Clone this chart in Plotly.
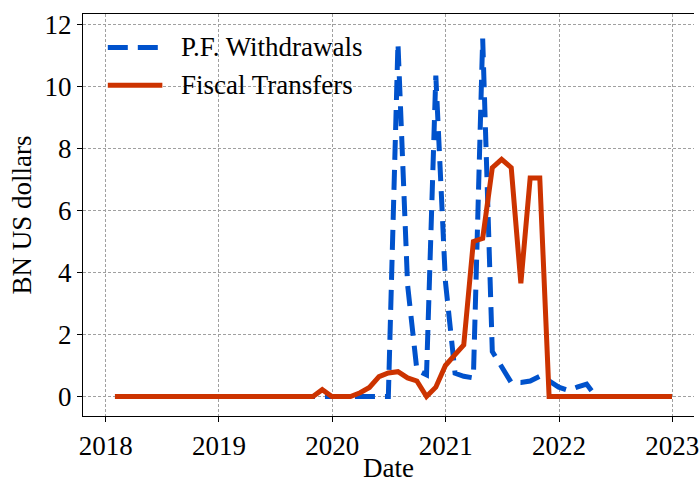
import pandas as pd
import plotly.graph_objects as go

# Monthly observations, month-end dates from Jan 2018 to Dec 2022
month_starts = pd.date_range(start="2018-01-01", periods=60, freq="MS")
dates = month_starts + pd.offsets.MonthEnd(0)

# Pension-fund withdrawals, BN US dollars
pf_withdrawals = [
    0, 0, 0, 0, 0, 0, 0, 0, 0, 0, 0, 0,                      # 2018
    0, 0, 0, 0, 0, 0, 0, 0, 0, 0, 0, 0,                      # 2019
    0, 0, 0, 0, 0, 0, 11.4, 3.6, 0.85, 0.7, 10.35, 3.7,      # 2020
    0.75, 0.65, 0.6, 11.55, 1.45, 0.95, 0.45, 0.45, 0.5, 0.65, 0.5, 0.3,  # 2021
    0.2, 0.3, 0.4, 0, 0, 0, 0, 0, 0, 0, 0, 0,                # 2022
]

# Fiscal transfers, BN US dollars
fiscal_transfers = [
    0, 0, 0, 0, 0, 0, 0, 0, 0, 0, 0, 0,                      # 2018
    0, 0, 0, 0, 0, 0, 0, 0, 0, 0, 0.22, 0,                   # 2019
    0, 0, 0.12, 0.29, 0.64, 0.76, 0.8, 0.6, 0.5, 0, 0.3, 1.0,  # 2020
    1.35, 1.66, 5.0, 5.1, 7.38, 7.65, 7.38, 3.65, 7.05, 7.05, 0, 0,  # 2021
    0, 0, 0, 0, 0, 0, 0, 0, 0, 0, 0, 0,                      # 2022
]

series_names = ["P.F. Withdrawals", "Fiscal Transfers"]
year_ticks = ["2018", "2019", "2020", "2021", "2022", "2023"]
y_ticks = [0, 2, 4, 6, 8, 10, 12]

BLUE = "#0052cc"
RED = "#cc3300"
FONT = "Liberation Serif"
DASH = "20px,10px"
TICK_SIZE = 27
LABEL_SIZE = 27

fig = go.Figure()
fig.add_trace(go.Scatter(
    x=dates, y=pf_withdrawals, mode="lines", name=series_names[0],
    line=dict(color=BLUE, width=5, dash=DASH),
))
fig.add_trace(go.Scatter(
    x=dates, y=fiscal_transfers, mode="lines", name=series_names[1],
    line=dict(color=RED, width=5),
))

W, H = 699, 483
L, R, T, B = 83, 0, 13.5, 66.5
plot_w, plot_h = W - L - R, H - T - B

def px_x(px):
    return (px - L) / plot_w

def px_y(py):
    return (H - B - py) / plot_h

# Legend drawn without a frame: sample line plus label for each series
legend_rows = [(47, BLUE, DASH), (85, RED, "solid")]
for (row_y, color, dash), label in zip(legend_rows, series_names):
    fig.add_shape(
        type="line", xref="paper", yref="paper",
        x0=px_x(108), x1=px_x(163), y0=px_y(row_y), y1=px_y(row_y),
        line=dict(color=color, width=5, dash=dash),
    )
    fig.add_annotation(
        xref="paper", yref="paper", x=px_x(180), y=px_y(row_y),
        text=label, showarrow=False, xanchor="left", yanchor="middle",
        font=dict(family=FONT, size=LABEL_SIZE, color="black"),
    )

axis_common = dict(
    showline=True, linecolor="black", linewidth=1.3,
    ticks="outside", ticklen=5, tickwidth=1.2, tickcolor="black",
    showgrid=True, gridcolor="#a0a0a0", gridwidth=0.8, griddash="3px,2px",
    tickfont=dict(family=FONT, size=TICK_SIZE, color="black"),
    ticklabeloverflow="allow",
    zeroline=False,
)

fig.update_layout(
    width=W, height=H,
    margin=dict(l=L, r=R, t=T, b=B, pad=0),
    plot_bgcolor="white", paper_bgcolor="white",
    showlegend=False,
    font=dict(family=FONT, size=LABEL_SIZE, color="black"),
    xaxis=dict(
        type="date",
        range=["2017-10-20", "2023-03-12"],
        tickvals=[f"{y}-01-01" for y in year_ticks],
        ticktext=year_ticks,
        mirror=True,
        title=dict(text="Date", font=dict(family=FONT, size=LABEL_SIZE), standoff=2),
        **axis_common,
    ),
    yaxis=dict(
        range=[-0.63, 12.34],
        tickvals=y_ticks,
        ticktext=[str(v) for v in y_ticks],
        title=dict(text="BN US dollars", font=dict(family=FONT, size=LABEL_SIZE), standoff=5),
        **axis_common,
    ),
)

fig.write_html("out.html")
